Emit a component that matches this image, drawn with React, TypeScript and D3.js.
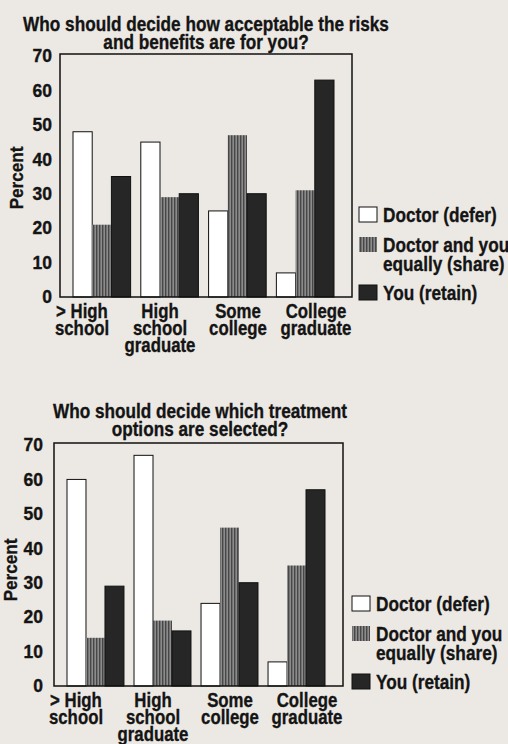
import React, { useEffect, useRef } from 'react';
import * as d3 from 'd3';

const categories = ['> High school', 'High school graduate', 'Some college', 'College graduate'];
const categoryLines = [['> High', 'school'], ['High', 'school', 'graduate'], ['Some', 'college'], ['College', 'graduate']];
const seriesNames = ['Doctor (defer)', 'Doctor and you equally (share)', 'You (retain)'];
const legendLines = [['Doctor (defer)'], ['Doctor and you', 'equally (share)'], ['You (retain)']];
const yTicks = [0, 10, 20, 30, 40, 50, 60, 70];

// panel 1: risks and benefits
const risksDefer = [48, 45, 25, 7];
const risksShare = [21, 29, 47, 31];
const risksRetain = [35, 30, 30, 63];

// panel 2: treatment options
const treatDefer = [60, 67, 24, 7];
const treatShare = [14, 19, 46, 35];
const treatRetain = [29, 16, 30, 57];

const FONT = "'Liberation Sans', Arial, sans-serif";

const App = () => {
  const svgRef = useRef<SVGSVGElement>(null);

  useEffect(() => {
    document.body.style.margin = '0';
    const svg = d3.select(svgRef.current);
    svg.selectAll('*').remove();

    svg.append('rect').attr('width', 508).attr('height', 744).attr('fill', '#ece9e4');

    const defs = svg.append('defs');
    const pat = defs.append('pattern')
      .attr('id', 'stripes')
      .attr('patternUnits', 'userSpaceOnUse')
      .attr('width', 3)
      .attr('height', 4);
    pat.append('rect').attr('width', 3).attr('height', 4).attr('fill', '#8c8c8c');
    pat.append('rect').attr('width', 1.4).attr('height', 4).attr('fill', '#474747');

    const fills = ['#ffffff', 'url(#stripes)', '#262626'];

    // condensed heavy text block: Liberation Sans bold squeezed horizontally, one <text> with tspans
    const label = (g: any, x: number, y: number, lines: string[], size: number, sx: number, lead: number, anchor = 'start') => {
      const t = g.append('text')
        .attr('transform', `translate(${x},${y}) scale(${sx},1)`)
        .attr('text-anchor', anchor)
        .attr('font-family', FONT)
        .attr('font-weight', 'bold')
        .attr('font-size', size)
        .attr('fill', '#141414')
        .attr('stroke', '#141414')
        .attr('stroke-width', 0.35);
      lines.forEach((line, i) => {
        t.append('tspan').attr('x', 0).attr('y', i * lead).text(line);
      });
      return t;
    };

    const drawPanel = (opts: any) => {
      const { title, titleX, titleY, left, right, top, bottom, tickX, percentX, percentY,
        legendX, legendBaselines, values } = opts;
      const g = svg.append('g');

      const y = d3.scaleLinear().domain([0, 70]).range([bottom, top + 2]);
      const x0 = d3.scaleBand<string>().domain(categories).range([left + 13, right - 18]).paddingInner(0.15);
      const x1 = d3.scaleBand<number>().domain([0, 1, 2]).range([0, x0.bandwidth()]);
      const xl = d3.scalePoint<string>().domain(categories).range([left + 22, right - 36]);

      label(g, titleX, titleY, title, 20, 0.86, 17.5, 'middle');

      // bars
      categories.forEach((c, ci) => {
        values.forEach((series: number[], si: number) => {
          g.append('rect')
            .attr('x', x0(c)! + x1(si)!)
            .attr('y', y(series[ci]))
            .attr('width', x1.bandwidth())
            .attr('height', bottom - y(series[ci]))
            .attr('fill', fills[si])
            .attr('stroke', si === 1 ? 'none' : '#111')
            .attr('stroke-width', 1);
        });
      });

      // frame
      g.append('rect').attr('x', left).attr('y', top).attr('width', right - left).attr('height', bottom - top)
        .attr('fill', 'none').attr('stroke', '#111').attr('stroke-width', 1.5);

      // y tick labels
      yTicks.forEach(t => {
        g.append('text').attr('x', tickX).attr('y', y(t)).attr('dy', '0.36em')
          .attr('text-anchor', 'end').attr('font-family', FONT).attr('font-weight', 'bold')
          .attr('font-size', 17.5).attr('fill', '#141414')
          .attr('stroke', '#141414').attr('stroke-width', 0.35).text(t);
      });

      g.append('text')
        .attr('transform', `translate(${percentX},${percentY}) rotate(-90) scale(0.9,1)`)
        .attr('text-anchor', 'middle').attr('font-family', FONT).attr('font-weight', 'bold')
        .attr('font-size', 19).attr('fill', '#141414')
        .attr('stroke', '#141414').attr('stroke-width', 0.35).text('Percent');

      // category labels
      categories.forEach((c, ci) => {
        label(g, xl(c)!, bottom + 21, categoryLines[ci], 20, 0.84, 17, 'middle');
      });

      // legend
      seriesNames.forEach((s, si) => {
        const base = legendBaselines[si];
        g.append('rect').attr('x', legendX).attr('y', base - 15).attr('width', 18).attr('height', 15)
          .attr('fill', fills[si]).attr('stroke', si === 1 ? 'none' : '#111');
        label(g, legendX + 24, base, legendLines[si], 21, 0.82, 19);
      });
    };

    drawPanel({
      title: ['Who should decide how acceptable the risks', 'and benefits are for you?'],
      titleX: 206, titleY: 31,
      left: 60, right: 352, top: 54, bottom: 297,
      tickX: 52, percentX: 23, percentY: 178,
      legendX: 359, legendBaselines: [222, 252, 300],
      values: [risksDefer, risksShare, risksRetain],
    });

    drawPanel({
      title: ['Who should decide which treatment', 'options are selected?'],
      titleX: 200, titleY: 418,
      left: 54, right: 343, top: 443, bottom: 686,
      tickX: 43, percentX: 17, percentY: 570,
      legendX: 352, legendBaselines: [611, 641, 689],
      values: [treatDefer, treatShare, treatRetain],
    });
  }, []);

  return <svg ref={svgRef} width={508} height={744} style={{ display: 'block' }}></svg>;
};

export default App;
